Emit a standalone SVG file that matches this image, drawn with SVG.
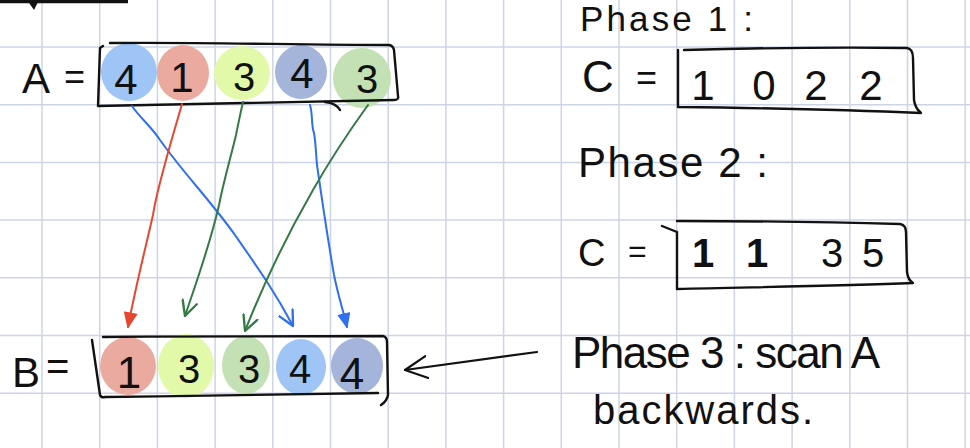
<svg xmlns="http://www.w3.org/2000/svg" width="970" height="448" viewBox="0 0 970 448">
<defs>
<style>
.grid line{stroke:#cdd4e7;stroke-width:1.5}
.ink{fill:none;stroke:#111;stroke-width:2.4;stroke-linecap:round;stroke-linejoin:round}
.t{font-family:"Liberation Sans",Arial,sans-serif;fill:#111}
.red{fill:none;stroke:#e5472f;stroke-width:2;stroke-linecap:round}
.grn{fill:none;stroke:#347a44;stroke-width:2;stroke-linecap:round}
.blu{fill:none;stroke:#2f6ff0;stroke-width:2;stroke-linecap:round}
</style>
<marker id="mRed" viewBox="0 0 16 16" refX="15" refY="8" markerWidth="16" markerHeight="16" markerUnits="userSpaceOnUse" orient="auto"><path d="M1,2 L15,8 L1,14 Z" fill="#e5472f" stroke="#e5472f" stroke-width="1.5" stroke-linejoin="round"/></marker>
<marker id="mBluF" viewBox="0 0 16 16" refX="15" refY="8" markerWidth="15" markerHeight="15" markerUnits="userSpaceOnUse" orient="auto"><path d="M1,2 L15,8 L1,14 Z" fill="#2f6ff0" stroke="#2f6ff0" stroke-width="1.5" stroke-linejoin="round"/></marker>
<marker id="mGrn" viewBox="0 0 16 16" refX="15" refY="8" markerWidth="17" markerHeight="17" markerUnits="userSpaceOnUse" orient="auto"><path d="M1,1 L15,8 L1,15" fill="none" stroke="#347a44" stroke-width="2.2" stroke-linecap="round" stroke-linejoin="round"/></marker>
<marker id="mBluO" viewBox="0 0 16 16" refX="15" refY="8" markerWidth="17" markerHeight="17" markerUnits="userSpaceOnUse" orient="auto"><path d="M1,1 L15,8 L1,15" fill="none" stroke="#2f6ff0" stroke-width="2.2" stroke-linecap="round" stroke-linejoin="round"/></marker>
<marker id="mBlk" viewBox="0 0 24 24" refX="23" refY="12" markerWidth="24" markerHeight="24" markerUnits="userSpaceOnUse" orient="auto"><path d="M1,1 L23,12 L1,23" fill="none" stroke="#111" stroke-width="2.2" stroke-linecap="round" stroke-linejoin="round"/></marker>
</defs>
<rect width="970" height="448" fill="#ffffff"/>
<g class="grid">
<line x1="42" y1="0" x2="42" y2="448"/><line x1="99.7" y1="0" x2="99.7" y2="448"/><line x1="157.4" y1="0" x2="157.4" y2="448"/><line x1="215.1" y1="0" x2="215.1" y2="448"/><line x1="272.8" y1="0" x2="272.8" y2="448"/><line x1="330.5" y1="0" x2="330.5" y2="448"/><line x1="388.2" y1="0" x2="388.2" y2="448"/><line x1="445.9" y1="0" x2="445.9" y2="448"/><line x1="503.6" y1="0" x2="503.6" y2="448"/><line x1="561.3" y1="0" x2="561.3" y2="448"/><line x1="619" y1="0" x2="619" y2="448"/><line x1="676.7" y1="0" x2="676.7" y2="448"/><line x1="734.4" y1="0" x2="734.4" y2="448"/><line x1="792.1" y1="0" x2="792.1" y2="448"/><line x1="849.8" y1="0" x2="849.8" y2="448"/><line x1="907.5" y1="0" x2="907.5" y2="448"/><line x1="965.2" y1="0" x2="965.2" y2="448"/>
<line x1="0" y1="47" x2="970" y2="47"/><line x1="0" y1="104.7" x2="970" y2="104.7"/><line x1="0" y1="162.4" x2="970" y2="162.4"/><line x1="0" y1="220.1" x2="970" y2="220.1"/><line x1="0" y1="277.8" x2="970" y2="277.8"/><line x1="0" y1="335.5" x2="970" y2="335.5"/><line x1="0" y1="393.2" x2="970" y2="393.2"/>
</g>
<g id="topmark">
<path d="M0,1.5 L128,1.5" stroke="#111" stroke-width="3.5" fill="none"/>
<path d="M27,0 L39,0 L34,10 Z" fill="#111"/>
</g>
<g id="arrayA">
<ellipse cx="129" cy="72" rx="28" ry="29" fill="#9ec5f6"/>
<ellipse cx="183" cy="73" rx="26" ry="28" fill="#eaaaa0"/>
<ellipse cx="242" cy="73" rx="28" ry="27" fill="#e2f9a9"/>
<ellipse cx="301" cy="72" rx="26" ry="27" fill="#a4b4da"/>
<ellipse cx="362" cy="78" rx="29" ry="30" fill="#c4e0b5"/>
<path class="ink" d="M110,43 C200,42 300,45 388,45 Q393,45 394,50 L398,96 Q399,100 394,100 C300,102 200,104 98,106 L100,48 L103,46"/>
<path class="ink" d="M325,102 Q336,103 340,110"/>
<text class="t" x="22" y="93" font-size="42">A</text>
<text class="t" x="64" y="89" font-size="36">=</text>
<text class="t" x="126" y="94" font-size="42" text-anchor="middle">4</text>
<text class="t" x="182" y="92" font-size="42" text-anchor="middle">1</text>
<text class="t" x="244" y="91" font-size="40" text-anchor="middle">3</text>
<text class="t" x="302" y="88" font-size="42" text-anchor="middle">4</text>
<text class="t" x="367" y="93" font-size="40" text-anchor="middle">3</text>
</g>
<g id="arrayB">
<ellipse cx="128" cy="366" rx="28" ry="29" fill="#eaaaa0"/>
<ellipse cx="186" cy="366" rx="28" ry="32" fill="#e2f9a9"/>
<ellipse cx="246" cy="365" rx="24" ry="29" fill="#c4e0b5"/>
<ellipse cx="301" cy="367" rx="25" ry="28" fill="#9ec5f6"/>
<ellipse cx="357" cy="366" rx="26" ry="28" fill="#a4b4da"/>
<path class="ink" d="M103,337 C200,336 300,337 383,336 Q387,337 387,342 L388,395 Q387,401 381,405"/>
<path class="ink" d="M92,340 L100,395 Q101,398 105,397 C200,396 300,394 378,393"/>
<text class="t" x="12" y="387" font-size="42">B</text>
<text class="t" x="46" y="380" font-size="40">=</text>
<text class="t" x="129" y="388" font-size="44" text-anchor="middle">1</text>
<text class="t" x="189" y="383" font-size="40" text-anchor="middle">3</text>
<text class="t" x="249" y="383" font-size="40" text-anchor="middle">3</text>
<text class="t" x="300" y="383" font-size="40" text-anchor="middle">4</text>
<text class="t" x="352" y="389" font-size="44" text-anchor="middle">4</text>
</g>
<g id="phase1">
<text class="t" x="580" y="31" font-size="35" textLength="173">Phase 1 :</text>
<text class="t" x="582" y="92" font-size="44">C</text>
<text class="t" x="636" y="90" font-size="36">=</text>
<path class="ink" d="M678,50 L678,107 C760,108 850,110 921,113 Q915,108 914,100 L913,58 Q913,49 907,48 C830,47 760,48 684,50"/>
<text class="t" x="703" y="100" font-size="42" text-anchor="middle">1</text>
<text class="t" x="764" y="100" font-size="42" text-anchor="middle">0</text>
<text class="t" x="816" y="100" font-size="42" text-anchor="middle">2</text>
<text class="t" x="871" y="100" font-size="42" text-anchor="middle">2</text>
</g>
<g id="phase2">
<text class="t" x="578" y="177" font-size="42" textLength="190">Phase 2 :</text>
<text class="t" x="578" y="266" font-size="38">C</text>
<text class="t" x="628" y="262" font-size="32">=</text>
<path class="ink" d="M662,226 L677,232 L677,289 C760,287 840,286 913,283 Q908,280 907,272 L906,232 Q906,225 900,224 C830,222 760,221 677,221"/>
<text class="t" x="703" y="267" font-size="40" font-weight="bold" text-anchor="middle">1</text>
<text class="t" x="757" y="267" font-size="40" font-weight="bold" text-anchor="middle">1</text>
<text class="t" x="832" y="267" font-size="40" text-anchor="middle">3</text>
<text class="t" x="873" y="267" font-size="40" text-anchor="middle">5</text>
</g>
<g id="phase3">
<text class="t" x="572" y="368" font-size="44" textLength="308">Phase 3 : scan A</text>
<text class="t" x="593" y="424" font-size="40" textLength="220">backwards.</text>
</g>
<g id="connectors">
<path class="blu" d="M132,106 C140,118 150,125 160,140 C185,175 210,200 235,235 C258,268 275,292 293,326" marker-end="url(#mBluO)"/>
<path class="red" d="M182,104 C176,125 170,145 166,160 C160,182 155,200 153,215 C145,250 136,285 128,327" marker-end="url(#mRed)"/>
<path class="grn" d="M243,102 C240,115 238,125 236,135 C230,160 224,180 219,205 C210,245 197,280 185,316" marker-end="url(#mGrn)"/>
<path class="blu" d="M310,105 C313,115 311,125 314,133 C316,145 316,155 317,165 C322,200 328,240 334,275 C338,295 343,310 347,327" marker-end="url(#mBluF)"/>
<path class="grn" d="M368,105 C350,130 330,160 313,190 C290,230 265,280 245,331" marker-end="url(#mGrn)"/>
<path d="M537,352 L405,370" fill="none" stroke="#111" stroke-width="2.2" stroke-linecap="round" marker-end="url(#mBlk)"/>
</g>
</svg>
